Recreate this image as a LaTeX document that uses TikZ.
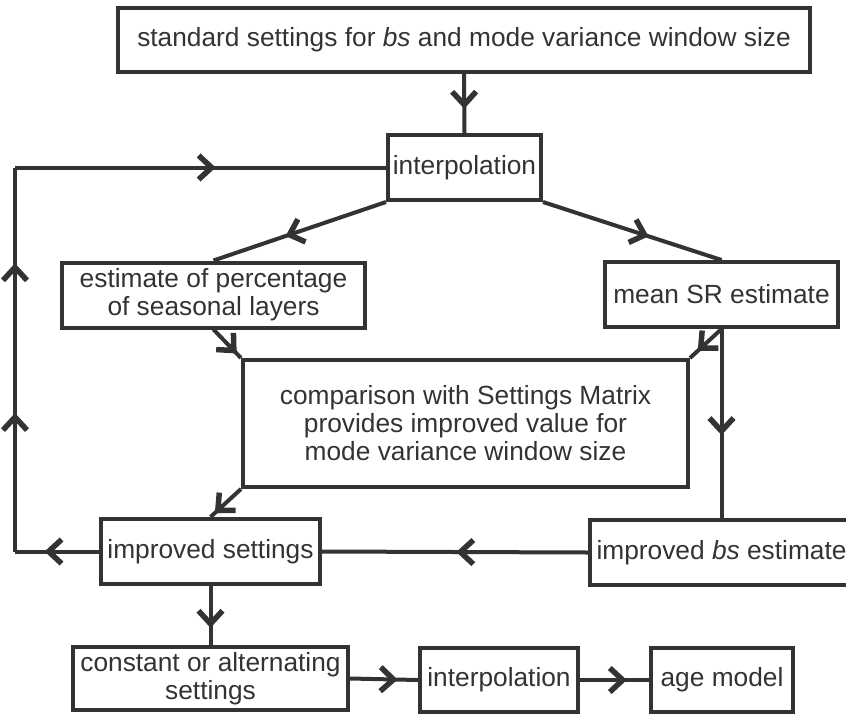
\documentclass[tikz,border=0pt]{standalone}
\usepackage{fontspec}
\setmainfont{Liberation Sans}
\usetikzlibrary{decorations.markings}
\definecolor{ink}{HTML}{333333}
\begin{document}
\begin{tikzpicture}[x=1pt,y=-1pt,
  box/.style={draw=ink, line width=4pt, inner sep=0pt, align=center, text=ink,
    font=\fontsize{26.3}{28}\selectfont},
  conn/.style={draw=ink, line width=4pt},
  barbpath/.style={draw=ink, line width=5.5pt, line join=miter, miter limit=10, line cap=butt},
  midarrow/.style={postaction={decorate}, decoration={markings,
    mark=at position #1 with {\draw[barbpath] (-13pt,12pt) -- (0pt,0pt) -- (-13pt,-12pt);}}},
  twoarrows/.style 2 args={postaction={decorate}, decoration={markings,
    mark=at position #1 with {\draw[barbpath] (-13pt,12pt) -- (0pt,0pt) -- (-13pt,-12pt);},
    mark=at position #2 with {\draw[barbpath] (-13pt,12pt) -- (0pt,0pt) -- (-13pt,-12pt);}}}]
\clip (0,0) rectangle (846,715);
\fill[white] (0,0) rectangle (846,715);

\node[box, minimum width=692pt, minimum height=64pt] (top) at (464,40)
  {standard settings for \textit{bs} and mode variance window size};
\node[box, minimum width=153pt, minimum height=65pt] (int1) at (464.5,167.5) {interpolation};
\node[box, minimum width=303pt, minimum height=65pt] (est) at (213.5,295)
  {estimate of percentage\\of seasonal layers};
\node[box, minimum width=233pt, minimum height=65pt] (msr) at (721.5,294.5) {mean SR estimate};
\node[box, minimum width=445pt, minimum height=127pt] (comp) at (465.5,423.5)
  {comparison with Settings Matrix\\provides improved value for\\mode variance window size};
\node[box, minimum width=219pt, minimum height=65pt] (iset) at (210.5,551.5) {improved settings};
\node[box, minimum width=263pt, minimum height=65pt] (ibs) at (721.5,552.5) {improved \textit{bs} estimate};
\node[box, minimum width=275pt, minimum height=63pt] (const) at (210.5,678.5)
  {constant or alternating\\settings};
\node[box, minimum width=158pt, minimum height=64pt] (int2) at (499,680) {interpolation};
\node[box, minimum width=142pt, minimum height=64pt] (age) at (722,680) {age model};

\coordinate (c1) at (15,551.5);
\coordinate (c2) at (15,167.5);

\draw[conn, midarrow=0.52] (top.south) -- (int1.north);
\draw[conn, midarrow=0.56] (int1.south west) -- (est.north);
\draw[conn, midarrow=0.57] (int1.south east) -- (msr.north);
\draw[conn, midarrow=0.74] (est.south) -- (comp.north west);
\draw[conn, midarrow=0.66] (msr.south) -- (comp.north east);
\draw[conn, midarrow=0.54] (msr.south) -- (ibs.north -| msr.south);
\draw[conn, midarrow=0.76] (comp.south west) -- (iset.north);
\draw[conn, midarrow=0.48] (ibs.west) -- (iset.east);
\draw[conn, midarrow=0.6] (iset.west) -- (c1);
\draw[conn, twoarrows={0.35}{0.74}] (c1) -- (c2);
\draw[conn, midarrow=0.53] (c2) -- (int1.west);
\draw[conn, midarrow=0.64] (iset.south) -- (const.north);
\draw[conn, midarrow=0.64] (const.east) -- (int2.west);
\draw[conn, midarrow=0.62] (int2.east) -- (age.west);
\end{tikzpicture}
\end{document}
